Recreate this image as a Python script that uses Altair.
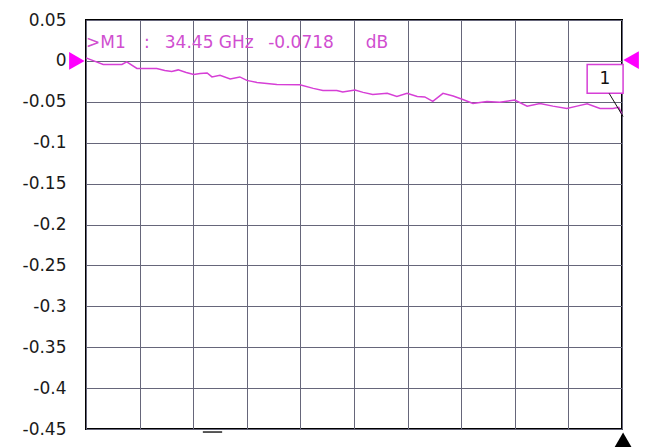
import altair as alt
import pandas as pd

# Trace (x in graticule divisions 0..10, y in dB)
trace_x = [0, 0.17, 0.32, 0.67, 0.76, 0.95, 1.32, 1.47, 1.60, 1.72, 1.87, 2.01, 2.13, 2.26,
           2.35, 2.50, 2.69, 2.87, 3.00, 3.19, 3.56, 3.99, 4.24, 4.42, 4.68, 4.79, 5.02,
           5.17, 5.35, 5.62, 5.80, 5.99, 6.18, 6.32, 6.47, 6.66, 6.85, 7.03, 7.22, 7.48,
           7.72, 8.00, 8.23, 8.47, 8.71, 8.97, 9.16, 9.35, 9.59, 9.83, 9.94, 10.0]
trace_y = [0.0037, -0.0006, -0.0043, -0.0043, -0.0012, -0.0092, -0.0092, -0.0116, -0.0128,
           -0.0110, -0.0141, -0.0165, -0.0153, -0.0147, -0.0196, -0.0177, -0.0220, -0.0196,
           -0.0238, -0.0263, -0.0287, -0.0293, -0.0336, -0.0361, -0.0361, -0.0381, -0.0357,
           -0.0385, -0.0410, -0.0397, -0.0434, -0.0397, -0.0434, -0.0440, -0.0495, -0.0397,
           -0.0430, -0.0471, -0.0520, -0.0495, -0.0504, -0.0479, -0.0553, -0.0520, -0.0553,
           -0.0581, -0.0553, -0.0523, -0.0581, -0.0581, -0.0568, -0.0654]

y_ticks = [0.05, 0.0, -0.05, -0.1, -0.15, -0.2, -0.25, -0.3, -0.35, -0.4, -0.45]
x_ticks = [0, 1, 2, 3, 4, 5, 6, 7, 8, 9, 10]

# Marker readout pieces
ann_text = [">M1", ":", "34.45 GHz", "-0.0718", "dB"]
ann_x = [0.0, 1.08, 1.47, 3.40, 5.22]
ann_y = [0.0214, 0.0214, 0.0214, 0.0214, 0.0214]

# Marker box "1"
box_x, box_x2, box_y, box_y2 = [9.35], [10.02], [-0.0043], [-0.0397]
box_label, box_lx, box_ly = ["1"], [9.68], [-0.022]
conn_x, conn_x2, conn_y, conn_y2 = [9.76], [10.02], [-0.0397], [-0.068]

# Reference / stimulus indicators
ref_shape = ["triangle-right", "triangle-left"]
ref_x = [-0.17, 10.17]
ref_y = [0.0, 0.001]
stim_x, stim_y = [10.02], [-0.4633]
dash_x, dash_x2, dash_y = [2.18], [2.54], [-0.4537]

MAG = "#d63fd6"
TXT = "#d04ed0"
FONT = "DejaVu Sans"

xs = alt.Scale(domain=[0, 10], nice=False, zero=False)
ys = alt.Scale(domain=[-0.45, 0.05], nice=False, zero=False)
x_axis = alt.Axis(values=x_ticks, labels=False, ticks=False, domain=False, grid=True,
                  gridColor="#66667a", gridWidth=1, gridOpacity=1, title=None)
y_axis = alt.Axis(values=y_ticks, ticks=False, domain=False, grid=True,
                  gridColor="#66667a", gridWidth=1, gridOpacity=1, title=None,
                  labelFont=FONT, labelFontSize=17, labelColor="#1a1a1a", labelPadding=20,
                  labelExpr="replace(format(datum.value, '.2~f'), '\u2212', '-')")

def X(f="x"):
    return alt.X(f + ":Q", scale=xs, axis=x_axis)

def Y(f="y"):
    return alt.Y(f + ":Q", scale=ys, axis=y_axis)

trace = alt.Chart(pd.DataFrame({"x": trace_x, "y": trace_y})).mark_line(
    color=MAG, strokeWidth=1.5, interpolate="linear").encode(x=X(), y=Y())

ann = alt.Chart(pd.DataFrame({"x": ann_x, "y": ann_y, "t": ann_text})).mark_text(
    align="left", baseline="middle", font=FONT, fontSize=17, color=TXT).encode(
    x=X(), y=Y(), text="t:N")

box = alt.Chart(pd.DataFrame({"x": box_x, "x2": box_x2, "y": box_y, "y2": box_y2})).mark_rect(
    fill="white", stroke=MAG, strokeWidth=1.5).encode(
    x=X(), x2="x2:Q", y=Y(), y2="y2:Q")

box_txt = alt.Chart(pd.DataFrame({"x": box_lx, "y": box_ly, "t": box_label})).mark_text(
    align="center", baseline="middle", font=FONT, fontSize=17, color="#111111").encode(
    x=X(), y=Y(), text="t:N")

conn = alt.Chart(pd.DataFrame({"x": conn_x, "x2": conn_x2, "y": conn_y, "y2": conn_y2})).mark_rule(
    color="#111111", strokeWidth=1).encode(x=X(), x2="x2:Q", y=Y(), y2="y2:Q")

refs = alt.Chart(pd.DataFrame({"x": ref_x, "y": ref_y, "s": ref_shape})).mark_point(
    filled=True, color="#ff00ff", size=320, opacity=1).encode(
    x=X(), y=Y(), shape=alt.Shape("s:N", scale=None, legend=None))

stim = alt.Chart(pd.DataFrame({"x": stim_x, "y": stim_y})).mark_point(
    filled=True, color="#000000", size=290, shape="triangle-up", opacity=1).encode(x=X(), y=Y())

dash = alt.Chart(pd.DataFrame({"x": dash_x, "x2": dash_x2, "y": dash_y})).mark_rule(
    color="#222222", strokeWidth=1.5).encode(x=X(), x2="x2:Q", y=Y())

chart = alt.layer(trace, ann, box, box_txt, conn, refs, stim, dash).properties(
    width=536, height=409,
    autosize=alt.AutoSizeParams(type="none"),
    padding={"left": 78, "top": 12, "right": 18, "bottom": 30},
    background="white",
).configure_view(stroke="black", strokeWidth=2)

chart.save("out.html", embed_options={"renderer": "svg", "actions": False})
